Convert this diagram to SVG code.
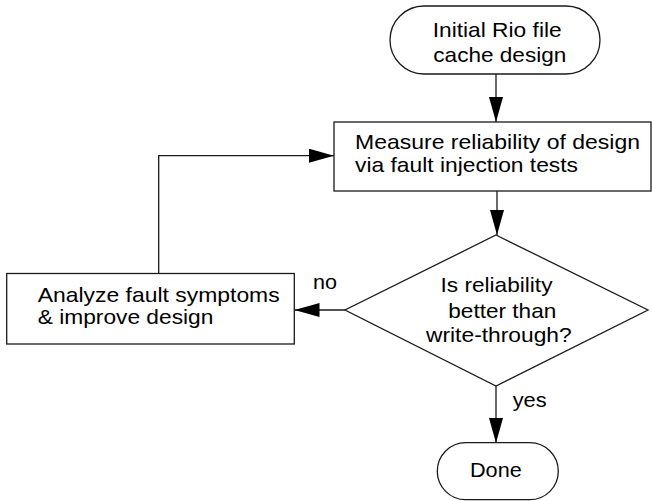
<svg xmlns="http://www.w3.org/2000/svg" width="652" height="501" viewBox="0 0 652 501">
<style>
.shape{fill:#fff;stroke:#1a1a1a;stroke-width:1.3}
.edge{fill:none;stroke:#1a1a1a;stroke-width:1.3}
text{font-family:"Liberation Sans",Arial,sans-serif;font-size:21px;fill:#000}
</style>
<defs>
<marker id="arr" markerUnits="userSpaceOnUse" markerWidth="26" markerHeight="14" refX="25" refY="7" orient="auto">
<path d="M0,0 L25,7 L0,14 z" fill="#000"/>
</marker>
</defs>
<rect width="652" height="501" fill="#fff"/>
<g id="connectors">
<line class="edge" x1="496" y1="74" x2="496" y2="122" marker-end="url(#arr)"/>
<line class="edge" x1="497" y1="191" x2="497" y2="235" marker-end="url(#arr)"/>
<line class="edge" x1="345" y1="310" x2="294.5" y2="310" marker-end="url(#arr)"/>
<line class="edge" x1="496" y1="386" x2="496" y2="443" marker-end="url(#arr)"/>
<polyline class="edge" points="158.7,273.5 158.7,155.7 334,155.7" marker-end="url(#arr)"/>
<text x="313" y="289.3" textLength="24" lengthAdjust="spacingAndGlyphs">no</text>
<text x="512.7" y="406.7" textLength="34" lengthAdjust="spacingAndGlyphs">yes</text>
</g>
<g id="start">
<rect class="shape" x="390" y="6" width="210" height="68" rx="34" ry="34"/>
<text x="432.7" y="36.7" textLength="129" lengthAdjust="spacingAndGlyphs">Initial Rio file</text>
<text x="433.3" y="61.7" textLength="133" lengthAdjust="spacingAndGlyphs">cache design</text>
</g>
<g id="measure">
<rect class="shape" x="334" y="122" width="317" height="69"/>
<text x="355" y="149" textLength="285" lengthAdjust="spacingAndGlyphs">Measure reliability of design</text>
<text x="355" y="172" textLength="223" lengthAdjust="spacingAndGlyphs">via fault injection tests</text>
</g>
<g id="decision">
<polygon class="shape" points="496,235 648,310 496,386 345,310"/>
<text x="440.5" y="292.3" textLength="112" lengthAdjust="spacingAndGlyphs">Is reliability</text>
<text x="448.3" y="318.3" textLength="108" lengthAdjust="spacingAndGlyphs">better than</text>
<text x="426" y="341.7" textLength="145.7" lengthAdjust="spacingAndGlyphs">write-through?</text>
</g>
<g id="analyze">
<rect class="shape" x="6.7" y="273.5" width="287.6" height="70.5"/>
<text x="37.7" y="301.7" textLength="242" lengthAdjust="spacingAndGlyphs">Analyze fault symptoms</text>
<text x="37.7" y="324.3" textLength="175.7" lengthAdjust="spacingAndGlyphs">&amp; improve design</text>
</g>
<g id="done">
<rect class="shape" x="437.3" y="442.7" width="121" height="57" rx="28.5" ry="28.5"/>
<text x="470" y="477.3" textLength="51.7" lengthAdjust="spacingAndGlyphs">Done</text>
</g>
</svg>
